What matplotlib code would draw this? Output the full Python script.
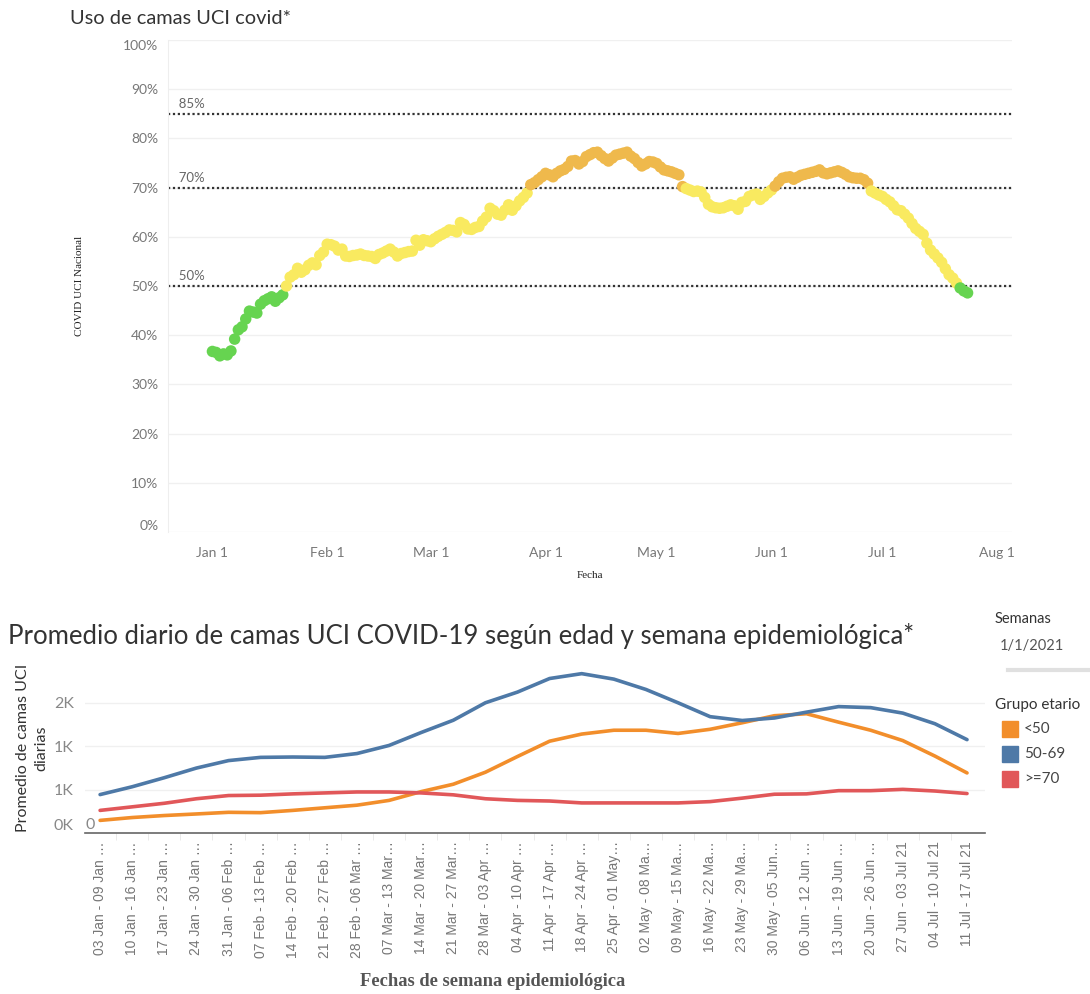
import numpy as np
import matplotlib.pyplot as plt
from matplotlib.patches import Rectangle
from matplotlib.lines import Line2D

plt.rcParams['font.family'] = ['Lato', 'DejaVu Sans']

# --- datos: uso diario de camas UCI covid (%) desde el 1 de enero 2021
start_date = '2021-01-01'
uso_uci = [36.7, 36.5, 35.8, 36.2, 36.0, 36.8, 39.2, 41.1, 41.7, 43.3,
           44.9, 44.7, 44.5, 46.3, 47.0, 47.4, 47.8, 46.9, 47.6, 48.2,
           50.0, 51.8, 52.3, 53.6, 52.8, 53.3, 54.2, 54.7, 54.3, 56.2,
           56.9, 58.5, 58.4, 58.1, 57.3, 57.5, 56.1, 56.0, 56.2, 56.3,
           56.5, 56.2, 56.1, 56.0, 55.6, 56.4, 56.7, 57.1, 57.5, 56.9,
           56.1, 56.6, 56.8, 57.0, 57.1, 59.3, 58.3, 59.4, 59.2, 59.0,
           59.6, 60.1, 60.5, 60.9, 61.4, 61.3, 61.0, 62.9, 62.5, 61.6,
           61.5, 61.9, 62.1, 63.2, 64.0, 65.8, 65.3, 64.6, 64.4, 65.4,
           66.5, 65.4, 66.3, 67.3, 68.0, 68.9, 70.6, 71.0, 71.6, 72.2,
           72.9, 72.6, 72.2, 72.9, 73.4, 73.7, 74.3, 75.4, 75.5, 74.8,
           75.3, 76.3, 76.7, 77.1, 77.2, 76.5, 75.9, 75.4, 76.0, 76.6,
           76.8, 77.0, 77.2, 76.4, 75.9, 75.1, 74.4, 74.8, 75.3, 75.2,
           74.9, 74.2, 73.6, 73.4, 73.2, 72.9, 72.6, 70.2, 69.8, 69.5,
           69.2, 69.3, 69.1, 68.0, 66.6, 66.1, 65.9, 65.8, 65.9, 66.2,
           66.5, 66.3, 65.6, 67.0, 67.2, 68.2, 68.5, 68.7, 67.6, 68.2,
           68.9, 69.5, 70.3, 71.2, 71.9, 72.1, 72.2, 71.7, 72.1, 72.5,
           72.7, 72.9, 73.1, 73.3, 73.6, 73.0, 72.8, 73.0, 73.2, 73.4,
           73.1, 72.7, 72.2, 72.0, 71.9, 71.9, 71.6, 70.9, 69.3, 68.9,
           68.5, 68.2, 67.6, 67.1, 66.3, 65.5, 65.3, 64.6, 63.8, 62.7,
           61.7, 61.1, 60.5, 58.7, 57.3, 56.5, 55.7, 54.8, 53.5, 52.3,
           51.6, 50.6, 49.6, 49.0, 48.6]
umbrales = [85, 70, 50]
meses = ['2021-01-01', '2021-02-01', '2021-03-01', '2021-04-01',
         '2021-05-01', '2021-06-01', '2021-07-01', '2021-08-01']
meses_lbl = ['Jan 1', 'Feb 1', 'Mar 1', 'Apr 1', 'May 1', 'Jun 1', 'Jul 1', 'Aug 1']

# --- datos: promedio diario de camas por grupo etario y semana
semanas = ['03 Jan - 09 Jan …', '10 Jan - 16 Jan …', '17 Jan - 23 Jan …',
           '24 Jan - 30 Jan …', '31 Jan - 06 Feb …', '07 Feb - 13 Feb …',
           '14 Feb - 20 Feb …', '21 Feb - 27 Feb …', '28 Feb - 06 Mar …',
           '07 Mar - 13 Mar…', '14 Mar - 20 Mar…', '21 Mar - 27 Mar…',
           '28 Mar - 03 Apr …', '04 Apr - 10 Apr …', '11 Apr - 17 Apr …',
           '18 Apr - 24 Apr …', '25 Apr - 01 May…', '02 May - 08 Ma…',
           '09 May - 15 Ma…', '16 May - 22 Ma…', '23 May - 29 Ma…',
           '30 May - 05 Jun…', '06 Jun - 12 Jun …', '13 Jun - 19 Jun …',
           '20 Jun - 26 Jun …', '27 Jun - 03 Jul 21', '04 Jul - 10 Jul 21',
           '11 Jul - 17 Jul 21']
menor_50 = [145, 178, 201, 219, 238, 234, 260, 290, 320, 375,
            476, 561, 699, 880, 1056, 1138, 1182, 1182, 1145, 1193,
            1268, 1349, 1372, 1275, 1182, 1063, 885, 691]
entre_50_69 = [442, 532, 636, 747, 833, 870, 874, 870, 914, 1007,
               1156, 1297, 1498, 1621, 1777, 1833, 1770, 1651, 1498, 1338,
               1294, 1323, 1390, 1454, 1442, 1379, 1257, 1074]
mayor_70 = [260, 301, 342, 394, 431, 435, 450, 461, 472, 472,
            461, 439, 394, 375, 368, 346, 346, 346, 346, 361,
            401, 446, 450, 487, 487, 502, 483, 454]
grupos = ['<50', '50-69', '>=70']
colores = ['#f28e2b', '#4e79a7', '#e15759']

W, H = 1090, 994
fig = plt.figure(figsize=(W / 100, H / 100), dpi=100)

def fx(px):
    return px / W

def fy(py):
    return 1 - py / H

# ---------------- grafico superior ----------------
ax1 = fig.add_axes([fx(168), fy(532), fx(1012) - fx(168), fy(40) - fy(532)])
fechas = np.datetime64(start_date) + np.arange(len(uso_uci))
uso = np.array(uso_uci)
col = np.where(uso < 50, '#66d450', np.where(uso <= 70, '#f9ea60', '#efb94c'))
ax1.scatter(fechas, uso, c=col, s=68, linewidths=0, zorder=3)
for u in umbrales:
    ax1.axhline(u, color='#333333', lw=1.6, ls=(0, (1, 1.2)), zorder=2)
    ax1.text(np.datetime64('2020-12-21'), u + 0.8, f'  {u}%', fontsize=9.5,
             color='#666666', va='bottom', ha='left')
ax1.set_ylim(0, 100)
ax1.set_xlim(np.datetime64('2020-12-20'), np.datetime64('2021-08-05'))
ax1.set_yticks(np.arange(0, 101, 10))
ax1.set_yticklabels([f'{v}%' for v in range(0, 101, 10)])
ax1.set_xticks([np.datetime64(m) for m in meses])
ax1.set_xticklabels(meses_lbl)
ax1.tick_params(length=0, labelsize=10, labelcolor='#777777')
ax1.tick_params(axis='x', pad=11)
ax1.tick_params(axis='y', pad=7)
ylbl = ax1.get_yticklabels()
ylbl[0].set_va('bottom')
ylbl[-1].set_va('top')
ax1.grid(axis='y', color='#f0f0f0', lw=1)
for s in ['top', 'right', 'bottom']:
    ax1.spines[s].set_visible(False)
ax1.spines['left'].set_color('#eeeeee')

fig.text(fx(70), fy(18), 'Uso de camas UCI covid*', fontsize=14.4, color='#333333',
         va='center', ha='left')
fig.text(fx(80), fy(286), 'COVID UCI Nacional', rotation=90, fontsize=8,
         family='Liberation Serif', color='#222222', ha='center', va='center')
fig.text(fx(590), fy(575), 'Fecha', fontsize=8, family='Liberation Serif',
         color='#222222', ha='center', va='center')

# ---------------- grafico inferior ----------------
ax2 = fig.add_axes([fx(85), fy(833), fx(985) - fx(85), fy(660) - fy(833)])
x = np.arange(len(semanas))
for serie, c in zip([menor_50, entre_50_69, mayor_70], colores):
    ax2.plot(x, serie, color=c, lw=2.6, solid_capstyle='round')
ax2.set_xlim(-0.47, 27.56)
ax2.set_ylim(0, 1990)
ax2.set_yticks([0, 500, 1000, 1500])
ax2.set_yticklabels(['0K', '1K', '1K', '2K'])
ax2.get_yticklabels()[0].set_va('bottom')
ax2.set_xticks(x)
ax2.set_xticklabels(semanas, rotation=90, family=['Liberation Sans', 'DejaVu Sans'])
ax2.set_xticks(x[:-1] + 0.5, minor=True)
ax2.tick_params(axis='x', which='major', length=0, labelsize=10,
                labelcolor='#777777', pad=6)
ax2.tick_params(axis='x', which='minor', length=5, color='#e6e6e6')
ax2.tick_params(axis='y', length=0, labelsize=11.5, labelcolor='#888888', pad=8)
ax2.grid(axis='y', color='#f0f0f0', lw=1)
for s in ['top', 'right', 'left']:
    ax2.spines[s].set_visible(False)
ax2.spines['bottom'].set_color('#666666')
ax2.spines['bottom'].set_linewidth(1.2)
ax2.text(-0.3, 10, '0', fontsize=11.5, color='#888888', ha='center', va='bottom')

fig.text(fx(8), fy(636), 'Promedio diario de camas UCI COVID-19 según edad y semana epidemiológica*',
         fontsize=18.5, color='#333333', ha='left', va='center')
fig.text(fx(32), fy(748), 'Promedio de camas UCI\ndiarias', rotation=90, fontsize=11.5,
         color='#333333', ha='center', va='center', multialignment='center',
         linespacing=1.4)
fig.text(fx(493), fy(982), 'Fechas de semana epidemiológica', fontsize=13.3,
         family='Liberation Serif', weight='bold', color='#555555',
         ha='center', va='center')

# panel lateral (filtro y leyenda)
fig.text(fx(995), fy(619), 'Semanas', fontsize=10.5, color='#333333', va='center')
fig.text(fx(1000), fy(646), '1/1/2021', fontsize=10.5, color='#555555', va='center')
fig.add_artist(Line2D([fx(1008), fx(1090)], [fy(670), fy(670)], color='#e0e0e0',
                      lw=3, transform=fig.transFigure))
fig.text(fx(995), fy(705), 'Grupo etario', fontsize=11, color='#333333', va='center')
for i, (g, c) in enumerate(zip(grupos, colores)):
    yc = 729 + i * 25
    fig.add_artist(Rectangle((fx(1002), fy(yc + 8)), fx(16), 16 / H, color=c,
                             transform=fig.transFigure))
    fig.text(fx(1024), fy(yc), g, fontsize=11, color='#444444', va='center')

fig.savefig('out.png', dpi=100)
